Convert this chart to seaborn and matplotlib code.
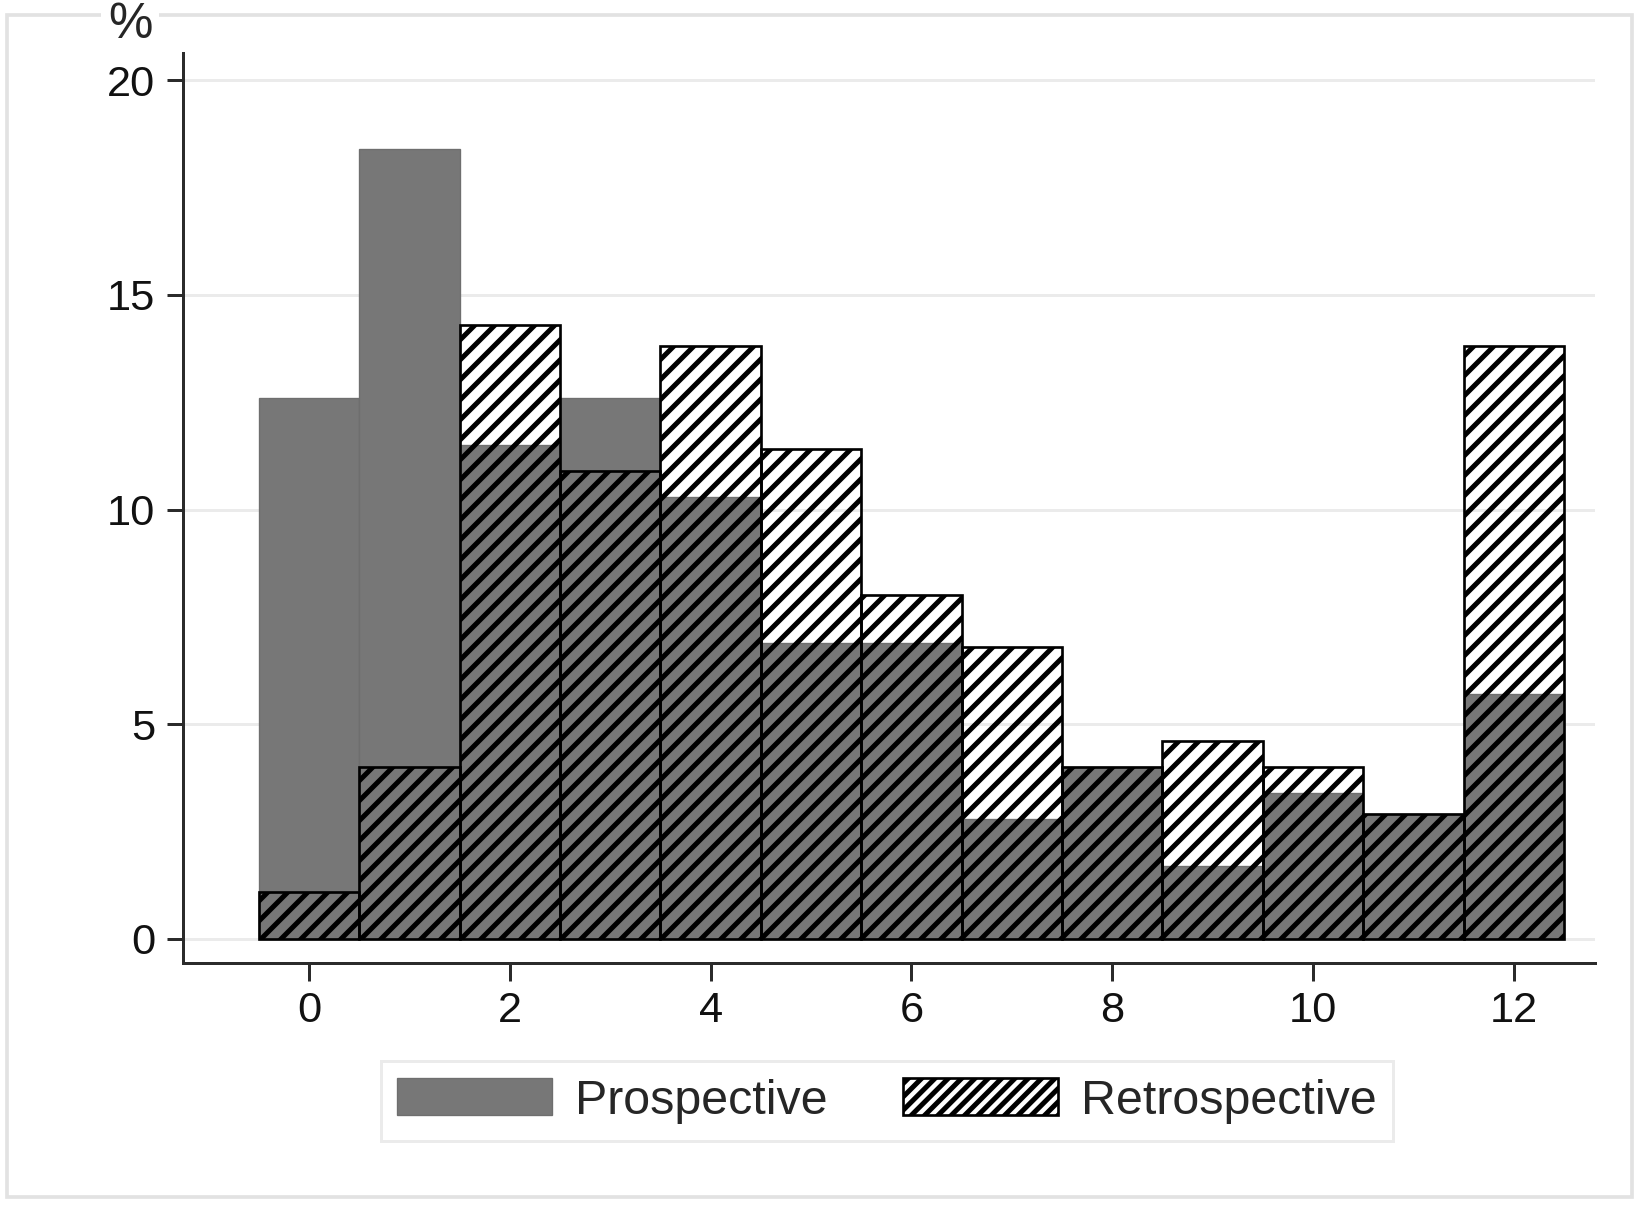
import matplotlib
matplotlib.use("Agg")
import matplotlib.pyplot as plt
from matplotlib.patches import Patch, Rectangle
import seaborn as sns
import numpy as np

# months (bins) and percentages per group
months = [0, 1, 2, 3, 4, 5, 6, 7, 8, 9, 10, 11, 12]
prospective = [12.6, 18.4, 11.5, 12.6, 10.3, 6.9, 6.9, 2.8, 4.0, 1.7, 3.4, 2.9, 5.7]
retrospective = [1.1, 4.0, 14.3, 10.9, 13.8, 11.4, 8.0, 6.8, 4.0, 4.6, 4.0, 2.9, 13.8]
yticks = [0, 5, 10, 15, 20]
xticks = [0, 2, 4, 6, 8, 10, 12]

sns.set_style("white")
plt.rcParams["font.family"] = ["Liberation Sans", "DejaVu Sans"]
plt.rcParams["hatch.linewidth"] = 3.0

DPI = 120
fig = plt.figure(figsize=(1642 / DPI, 1206 / DPI), dpi=DPI)
fig.patch.set_facecolor("white")
ax = fig.add_axes([183 / 1642, 1 - 963 / 1206, (1595 - 183) / 1642, (963 - 53) / 1206])

gray = "#777777"
sns.histplot(x=months, weights=prospective, discrete=True, ax=ax,
             color=gray, alpha=1, edgecolor="#6e6e6e", linewidth=0.8, zorder=2)
sns.histplot(x=months, weights=retrospective, discrete=True, ax=ax,
             fill=False, color="black", edgecolor="black", linewidth=1.6,
             hatch="//", zorder=3)

ax.set_xlim(-1.257, 12.81)
ax.set_ylim(-0.56, 20.63)
ax.set_xticks(xticks)
ax.set_yticks(yticks)
ax.set_xlabel("")
ax.set_ylabel("")

ax.yaxis.grid(True, color="#ebebeb", linewidth=1.8, zorder=0)
ax.set_axisbelow(True)

for side in ["top", "right"]:
    ax.spines[side].set_visible(False)
for side in ["left", "bottom"]:
    ax.spines[side].set_color("#2b2b2b")
    ax.spines[side].set_linewidth(1.8)

ax.tick_params(axis="y", direction="out", length=9.5, width=1.8, color="#2b2b2b",
               labelsize=26, pad=7, left=True)
ax.tick_params(axis="x", direction="out", length=11, width=1.8, color="#2b2b2b",
               labelsize=26, pad=6, bottom=True)
for lab in ax.get_xticklabels() + ax.get_yticklabels():
    lab.set_color("#111111")

# outer graph-region border
fig.patches.append(Rectangle((7 / 1642, 1 - 1197 / 1206), (1632 - 7) / 1642, (1197 - 15) / 1206,
                             transform=fig.transFigure, fill=False,
                             edgecolor="#e2e2e2", linewidth=2.2, zorder=0))

fig.text(130 / 1642, 1 - 25 / 1206, "%", fontsize=30, ha="center", va="center",
         bbox=dict(facecolor="white", edgecolor="none", pad=4))

handles = [Patch(facecolor=gray, edgecolor="#6e6e6e", linewidth=0.8, label="Prospective"),
           Patch(facecolor="white", edgecolor="black", linewidth=1.6, hatch="///",
                 label="Retrospective")]
leg = fig.legend(handles=handles, loc="center", bbox_to_anchor=(887 / 1642, 1 - 1101 / 1206),
                 ncol=2, fontsize=29, frameon=True, fancybox=False, shadow=False,
                 handlelength=3.2, handleheight=0.8, handletextpad=0.48,
                 columnspacing=1.55, borderpad=0.35, borderaxespad=0)
leg.get_frame().set_edgecolor("#e6e6e6")
leg.get_frame().set_linewidth(1.8)

fig.savefig("out.png", dpi=DPI)
